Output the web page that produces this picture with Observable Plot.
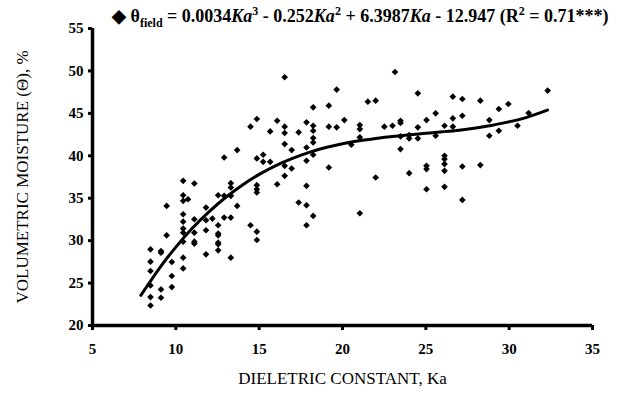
<!DOCTYPE html>
<html><head><meta charset="utf-8">
<script src="https://cdn.jsdelivr.net/npm/d3@7"></script>
<script src="https://cdn.jsdelivr.net/npm/@observablehq/plot@0.6"></script>
<style>
body{margin:0;background:#fff;}
#wrap{position:relative;width:626px;height:396px;overflow:hidden;}
#wrap svg{position:absolute;left:0;top:0;}
#title{position:absolute;left:112px;top:4px;font-family:"Liberation Serif","Times New Roman",serif;font-weight:bold;font-size:18px;white-space:nowrap;color:#000;z-index:2;}
#title sub,#title sup{font-size:12px;}
</style></head><body>
<div id="wrap"><div id="title">&#9670; &#952;<sub>field</sub> = 0.0034<i>Ka</i><sup>3</sup> - 0.252<i>Ka</i><sup>2</sup> + 6.3987<i>Ka</i> - 12.947 (R<sup>2</sup> = 0.71***)</div></div>
<script>
const ka = [8.48,8.48,8.48,8.48,8.48,8.48,9.11,9.11,9.11,9.11,9.45,9.45,9.76,9.76,9.76,
10.44,10.44,10.44,10.44,10.44,10.44,10.44,10.44,10.44,10.44,10.73,11.11,11.11,11.11,11.11,11.11,
11.81,11.81,11.81,11.81,12.19,12.54,12.9,12.54,12.54,12.54,12.54,12.54,12.54,12.9,12.9,
13.3,13.3,13.3,13.3,13.3,13.68,13.68,14.48,14.48,14.86,14.86,14.86,14.86,14.86,14.86,14.86,
15.24,15.24,15.66,15.66,16.08,16.08,16.53,16.53,16.53,16.53,16.53,16.53,16.95,16.95,17.37,17.37,
17.84,18.24,17.84,17.84,17.84,17.84,17.84,18.24,18.24,18.24,18.24,18.24,18.24,
19.18,19.65,19.18,19.65,19.18,20.11,20.53,21.04,21.04,21.04,21.04,21.52,21.99,21.99,
22.51,23.0,23.15,23.48,23.48,23.48,23.48,24.0,24.0,24.0,24.52,24.52,24.52,
25.04,25.04,25.04,25.04,25.59,25.59,26.12,26.12,26.12,26.12,26.12,26.12,26.62,26.62,26.62,
27.19,27.19,27.19,27.19,28.27,28.27,28.81,28.81,29.38,29.38,29.95,30.5,31.17,32.31];
const theta = [28.98,27.52,26.42,24.72,23.35,22.36,28.78,28.58,24.25,23.27,34.09,30.63,27.48,25.83,24.53,
37.05,35.35,34.69,33.11,32.24,31.42,30.94,29.88,27.99,26.73,34.88,36.73,32.52,30.94,29.88,29.65,
33.9,32.4,31.22,28.39,32.6,35.35,35.28,31.81,30.83,30.63,29.76,29.57,28.86,39.8,32.72,
36.77,36.26,35.28,32.72,27.99,40.67,34.09,43.43,31.81,44.33,39.69,36.54,36.06,35.67,31.06,30.08,
40.12,39.29,39.29,42.87,44.13,36.65,49.25,43.43,42.68,41.38,38.82,37.64,40.67,38.5,42.76,34.49,
43.94,45.71,40.98,39.41,36.46,34.17,31.81,43.54,42.95,42.09,41.57,40.12,32.91,
45.91,47.8,43.43,43.35,38.62,44.21,41.3,43.62,43.15,42.17,33.23,46.38,46.5,37.44,
43.43,43.54,49.87,44.13,43.86,42.28,40.79,42.44,42.05,37.95,47.36,43.35,42.05,
44.21,38.82,38.43,36.06,45.0,42.36,43.54,40.0,39.61,39.02,38.23,36.34,46.97,44.41,43.43,
46.69,44.72,38.74,34.8,46.5,38.9,44.21,42.36,45.51,42.95,46.1,43.54,45.04,47.68];
const fitKa = [7.9,9,10,11,12,13,14,15,16,17,18,19,20,21,22,23,24,25,26,27,28,29,30,31,32.3];
const fitTheta = [23.55,26.71,29.24,31.48,33.42,35.11,36.57,37.81,38.85,39.7,40.41,40.98,41.42,41.78,42.05,42.28,42.47,42.65,42.83,43.02,43.28,43.6,44.01,44.5,45.39];
const xTicks = [5,10,15,20,25,30,35];
const yTicks = [20,25,30,35,40,45,50,55];
const xTitle = "DIELETRIC CONSTANT, Ka";
const yTitle = "VOLUMETRIC MOISTURE (\u0398), %";

const points = ka.map((k, i) => ({ka: k, theta: theta[i]}));
const fit = fitKa.map((k, i) => ({ka: k, theta: fitTheta[i]}));
const serif = "Liberation Serif, Times New Roman, serif";

const chart = Plot.plot({
  width: 626, height: 396,
  marginTop: 28, marginBottom: 71, marginLeft: 92, marginRight: 34,
  style: {fontFamily: serif, background: "#fff", color: "#000", overflow: "visible"},
  x: {domain: [5, 35]},
  y: {domain: [20, 55]},
  marks: [
    Plot.axisX({ticks: xTicks, tickSize: 5, tickPadding: 13, strokeWidth: 3, fontSize: 15, fontWeight: "bold", label: null, tickFormat: d => String(d)}),
    Plot.axisY({ticks: yTicks, tickSize: 4, tickPadding: 5, strokeWidth: 3, fontSize: 15, fontWeight: "bold", label: null, tickFormat: d => String(d)}),
    Plot.ruleY([20], {strokeWidth: 3.5}),
    Plot.ruleX([5], {strokeWidth: 3.5}),
    Plot.dot(points, {x: "ka", y: "theta", symbol: "diamond2", fill: "black", stroke: "none", r: 3}),
    Plot.line(fit, {x: "ka", y: "theta", curve: "natural", strokeWidth: 3, stroke: "black"}),
    Plot.text([xTitle], {frameAnchor: "bottom", dy: 58, fontSize: 17, fontFamily: serif, fill: "black", textAnchor: "middle"}),
    Plot.text([yTitle], {frameAnchor: "left", dx: -70, rotate: -90, fontSize: 17, fontFamily: serif, fill: "black", textAnchor: "middle"})
  ]
});
document.getElementById("wrap").appendChild(chart);
</script>
</body></html>
